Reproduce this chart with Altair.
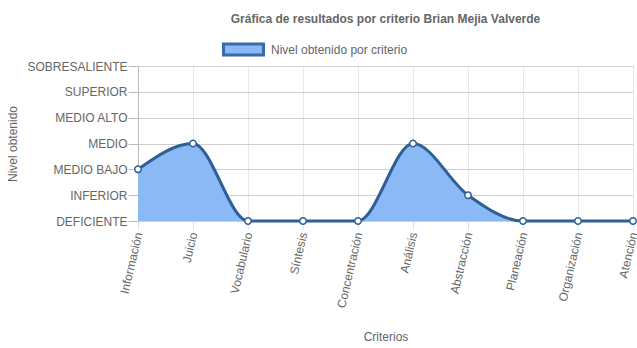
import altair as alt
import pandas as pd

criterios = ["Información", "Juicio", "Vocabulario", "Síntesis", "Concentración",
             "Análisis", "Abstracción", "Planeación", "Organización", "Atención"]
niveles = [2, 3, 0, 0, 0, 3, 1, 0, 0, 0]
nivel_labels = ["DEFICIENTE", "INFERIOR", "MEDIO BAJO", "MEDIO", "MEDIO ALTO",
                "SUPERIOR", "SOBRESALIENTE"]
serie = "Nivel obtenido por criterio"

df = pd.DataFrame({"criterio": criterios, "nivel": niveles, "serie": [serie] * len(criterios)})

FILL = "#8ab9f5"
LINE = "#2f5f97"
TXT = "#666666"
FONT = "Liberation Sans"

label_expr = "[" + ",".join(f"'{l}'" for l in nivel_labels) + "][datum.value]"

x_enc = alt.X("criterio:N", sort=criterios,
              scale=alt.Scale(type="point", padding=0),
              axis=alt.Axis(title="Criterios", labelAngle=283, labelAlign="right",
                            labelBaseline="middle", labelPadding=3, tickSize=8,
                            grid=True, gridColor="#e8e8e8", domain=False,
                            tickColor="#e0e0e0", titlePadding=23))
y_enc = alt.Y("nivel:Q", scale=alt.Scale(domain=[0, 6], nice=False, zero=True),
              axis=alt.Axis(title="Nivel obtenido", values=list(range(7)),
                            labelExpr=label_expr, tickSize=10, labelPadding=1,
                            grid=True, gridColor="#d0d0d0", domainColor="#bbbbbb",
                            tickColor="#bbbbbb", titlePadding=7))

base = alt.Chart(df)

area = base.mark_area(interpolate="monotone", opacity=1).encode(
    x=x_enc, y=y_enc,
    fill=alt.Fill("serie:N", scale=alt.Scale(range=[FILL]),
                  legend=alt.Legend(title=None, orient="none", legendX=84, legendY=-38,
                                    symbolType="M-1,-0.28L1,-0.28L1,0.28L-1,0.28Z",
                                    symbolSize=1600, symbolStrokeColor="#3a6aa8",
                                    symbolStrokeWidth=3, symbolOpacity=1,
                                    labelFontSize=12, labelColor=TXT, labelFont=FONT,
                                    labelOffset=6))
)
line = base.mark_line(interpolate="monotone", color=LINE, strokeWidth=3).encode(
    x=x_enc, y=y_enc)
points = base.mark_point(filled=True, fill="white", stroke=LINE, strokeWidth=1.5,
                         size=42, opacity=1).encode(x=x_enc, y=y_enc)

chart = alt.layer(area, line, points).properties(
    width=495, height=155,
    title=alt.Title("Gráfica de resultados por criterio Brian Mejia Valverde",
                    fontSize=12, fontWeight="bold", color=TXT, font=FONT,
                    anchor="middle", offset=2),
    autosize=alt.AutoSizeParams(type="none"),
    padding={"left": 138, "top": 66, "right": 4, "bottom": 127},
).configure_view(stroke=None).configure_axis(
    labelFont=FONT, titleFont=FONT, labelColor=TXT, titleColor=TXT,
    labelFontSize=12, titleFontSize=12, titleFontWeight="normal"
)

chart.save("out.html", embed_options={"renderer": "svg", "actions": False})
